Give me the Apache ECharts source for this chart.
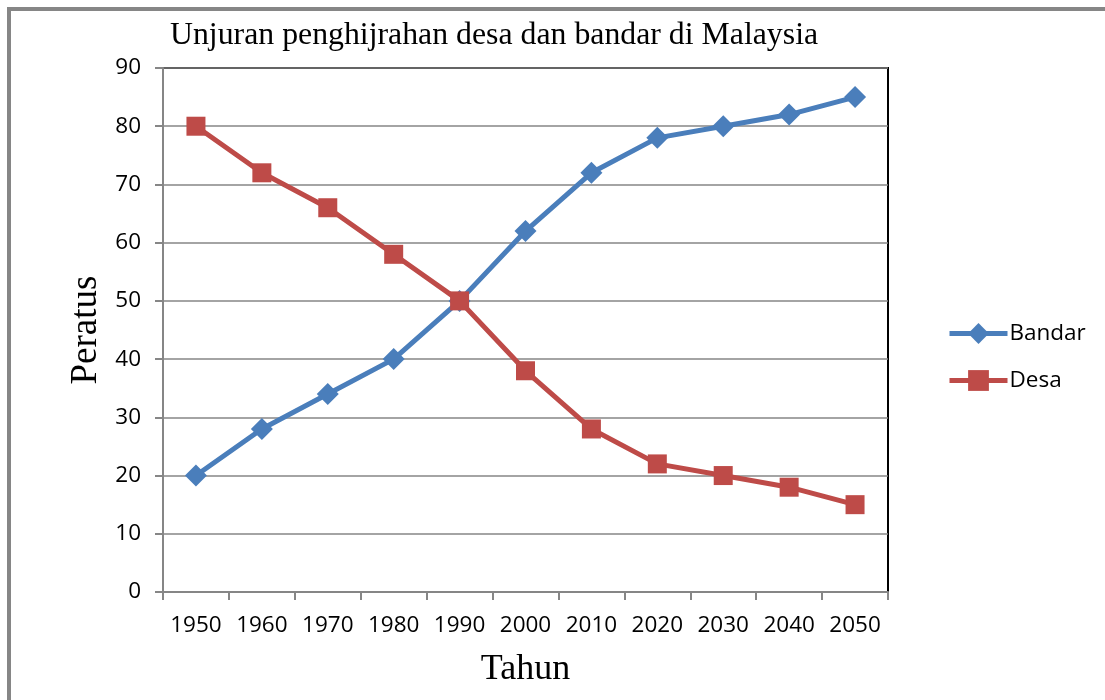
<!DOCTYPE html>
<html><head><meta charset="utf-8">
<script src="https://cdn.jsdelivr.net/npm/echarts@6/dist/echarts.min.js"></script>
<style>html,body{margin:0;padding:0;background:#fff}#c{width:1105px;height:700px}</style>
</head><body><div id="c"></div>
<script>
const titleText = 'Unjuran penghijrahan desa dan bandar di Malaysia';
const years = ['1950','1960','1970','1980','1990','2000','2010','2020','2030','2040','2050'];
const bandar = [20,28,34,40,50,62,72,78,80,82,85];
const desa = [80,72,66,58,50,38,28,22,20,18,15];
const yTicks = {min:0, max:90, interval:10};

const chart = echarts.init(document.getElementById('c'));
const labelFont = {fontFamily:'Open Sans', fontSize:22.5, color:'#000'};
chart.setOption({
  animation:false,
  backgroundColor:'#fff',
  title:{text:titleText, left:165, top:15,
    textStyle:{fontFamily:'Liberation Serif', fontSize:31.8, fontWeight:'normal', color:'#000'}},
  graphic:[{type:'rect', shape:{x:9, y:9, width:1200, height:800},
    style:{fill:null, stroke:'#868686', lineWidth:4}, silent:true}],
  legend:{orient:'vertical', left:942, top:317, itemGap:24, itemWidth:58, itemHeight:26,
    lineStyle:{width:5},
    textStyle:{fontFamily:'Open Sans', fontSize:22.5, color:'#000', padding:[0,0,0,-3]},
    data:['Bandar','Desa']},
  grid:{left:163, right:217, top:68, bottom:108, show:true, borderColor:'#000', borderWidth:2},
  xAxis:{type:'category', data:years, boundaryGap:true,
    name:'Tahun', nameLocation:'middle', nameGap:60,
    nameTextStyle:{fontFamily:'Liberation Serif', fontSize:36, color:'#000'},
    axisLine:{lineStyle:{color:'#868686', width:2}},
    axisTick:{show:true, interval:0, length:8, lineStyle:{color:'#868686', width:2}},
    axisLabel:{...labelFont, interval:0, margin:22}},
  yAxis:{type:'value', min:yTicks.min, max:yTicks.max, interval:yTicks.interval,
    name:'Peratus', nameLocation:'middle', nameGap:56,
    nameTextStyle:{fontFamily:'Liberation Serif', fontSize:37, color:'#000'},
    axisLine:{show:true, lineStyle:{color:'#868686', width:2}},
    axisTick:{show:true, length:8, lineStyle:{color:'#868686', width:2}},
    splitLine:{lineStyle:{color:'#868686', width:1.5}},
    axisLabel:{...labelFont, margin:22}},
  series:[
    {name:'Bandar', type:'line', data:bandar, symbol:'diamond', symbolSize:22,
      lineStyle:{color:'#4a7ebb', width:5}, itemStyle:{color:'#4a7ebb'}},
    {name:'Desa', type:'line', data:desa, symbol:'rect', symbolSize:19,
      lineStyle:{color:'#be4b48', width:5}, itemStyle:{color:'#be4b48'}}
  ]
});
</script></body></html>
